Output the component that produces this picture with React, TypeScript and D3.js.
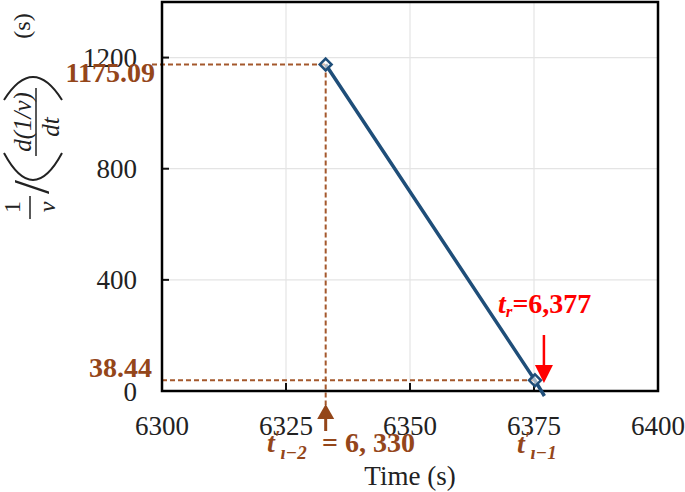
import React from 'react';
import * as d3 from 'd3';

// ---- data ----
const xTicks = [6300, 6325, 6350, 6375, 6400];
const yTicks = [0, 400, 800, 1200];
const gridX = [6325, 6350, 6375];
const gridY = [400, 800, 1200];
// fitted line through the two marked points, running just past the axis
const lineTimes = [6333, 6375.2, 6377.1];
const lineValues = [1175.09, 38.44, -18];
// hollow diamond markers
const markerTimes = [6333, 6375.2];
const markerValues = [1175.09, 38.44];
const markerLabels = ['1175.09', '38.44'];
const trTime = 6377;

const W = 685;
const H = 492;
const SERIF = '"Liberation Serif", "Times New Roman", serif';
const BROWN = '#94461a';
const BROWN_LINE = '#a4582c';
const BLUE = '#1f4e79';
const RED = '#ff0000';
const INK = '#222';

const x = d3.scaleLinear().domain([6300, 6400]).range([162, 658]);
const y = d3.scaleLinear().domain([0, 1400]).range([391, 2]);

const rot = (px: number, py: number) => `translate(${px},${py}) rotate(-90)`;

export default function App() {
  const pts = lineTimes.map((t, i) => [x(t), y(lineValues[i])] as [number, number]);
  const linePath = d3.line()(pts) || '';
  const diamond = d3.symbol().type(d3.symbolDiamond2).size(90)() || '';
  const [x0, x1] = x.range();
  const [yb, yt] = y.range();

  const xa = x(markerTimes[0]);
  const xr = x(trTime);

  return (
    <svg
      width={W}
      height={H}
      viewBox={`0 0 ${W} ${H}`}
      style={{ position: 'absolute', left: 0, top: 0, background: '#fff' }}
      fontFamily={SERIF}
    >
      {/* grid */}
      {gridX.map(t => (
        <line key={'gx' + t} x1={x(t)} x2={x(t)} y1={yt} y2={yb} stroke="#e4e4e4" strokeWidth={1.2} />
      ))}
      {gridY.map(v => (
        <line key={'gy' + v} x1={x0} x2={x1} y1={y(v)} y2={y(v)} stroke="#e4e4e4" strokeWidth={1.2} />
      ))}

      {/* inner ticks */}
      {gridY.map(v => (
        <line key={'ty' + v} x1={x0} x2={x0 + 7} y1={y(v)} y2={y(v)} stroke="#111" strokeWidth={2} />
      ))}
      {gridX.map(t => (
        <line key={'tx' + t} x1={x(t)} x2={x(t)} y1={yb} y2={yb - 8} stroke="#111" strokeWidth={2} />
      ))}

      {/* dashed guide lines */}
      <g stroke={BROWN_LINE} strokeWidth={2} strokeDasharray="5,3" fill="none">
        <line x1={152} x2={x(markerTimes[0])} y1={y(markerValues[0])} y2={y(markerValues[0])} />
        <line x1={xa} x2={xa} y1={y(markerValues[0])} y2={405} />
        <line x1={x0} x2={x(markerTimes[1])} y1={y(markerValues[1])} y2={y(markerValues[1])} />
      </g>

      {/* frame */}
      <rect x={x0} y={yt} width={x1 - x0} height={yb - yt} fill="none" stroke="#000" strokeWidth={2.5} />

      {/* series */}
      <path d={linePath} fill="none" stroke={BLUE} strokeWidth={3.5} />
      {markerTimes.map((t, i) => (
        <path
          key={'m' + i}
          d={diamond}
          transform={`translate(${x(t)},${y(markerValues[i])})`}
          fill="#fff"
          fillOpacity={0.6}
          stroke={BLUE}
          strokeWidth={2.5}
        />
      ))}

      {/* tick labels */}
      {yTicks.map(v => (
        <text key={'ly' + v} x={137} y={y(v) + 9.5} textAnchor="end" fontSize={27} fill={INK}>
          {v}
        </text>
      ))}
      {xTicks.map(t => (
        <text key={'lx' + t} x={x(t)} y={435} textAnchor="middle" fontSize={27} fill={INK}>
          {t}
        </text>
      ))}
      <text x={410} y={485} textAnchor="middle" fontSize={27} fill={INK}>Time (s)</text>

      {/* value labels on the y axis */}
      <text x={155} y={82} textAnchor="end" fontSize={28} fontWeight="bold" fill={BROWN}>{markerLabels[0]}</text>
      <text x={152} y={377} textAnchor="end" fontSize={28} fontWeight="bold" fill={BROWN}>{markerLabels[1]}</text>

      {/* brown up arrow + t'_{i-2} */}
      <line x1={xa} x2={xa} y1={431} y2={416} stroke={BROWN} strokeWidth={3} />
      <path d={`M${xa},404 L${xa - 8.5},419 L${xa + 8.5},419 Z`} fill={BROWN} />
      <text y={452} fill={BROWN} fontWeight="bold" fontSize={28}>
        <tspan x={267} fontStyle="italic">t</tspan>
        <tspan fontSize={20} dy={-7} fontStyle="italic">′</tspan>
        <tspan fontSize={19} dy={14} fontStyle="italic">ı−2</tspan>
        <tspan dy={-7} x={322}>= 6, 330</tspan>
      </text>

      {/* red down arrow + t_r */}
      <line x1={xr} x2={xr} y1={335} y2={367} stroke={RED} strokeWidth={2.5} />
      <path d={`M${xr - 9},365 L${xr + 9},365 L${xr},383 Z`} fill={RED} />
      <text y={313} fill={RED} fontWeight="bold" fontSize={28}>
        <tspan x={498} fontStyle="italic">t</tspan>
        <tspan fontSize={17} dy={4} fontStyle="italic">r</tspan>
        <tspan dy={-4}>=6,377</tspan>
      </text>

      {/* t'_{i-1} under 6375 */}
      <text y={453} fill={BROWN} fontWeight="bold" fontSize={28} fontStyle="italic">
        <tspan x={517}>t</tspan>
        <tspan fontSize={20} dy={-7}>′</tspan>
        <tspan fontSize={19} dy={13}>ı−1</tspan>
      </text>

      {/* rotated y title: 1/v / (d(1/v)/dt)  (s) */}
      <g fill={INK} fontSize={24}>
        <text transform={rot(12, 207)} textAnchor="middle" dominantBaseline="central">1</text>
        <line x1={30} x2={30} y1={196} y2={219} stroke={INK} strokeWidth={1.5} />
        <text transform={rot(47, 207)} textAnchor="middle" dominantBaseline="central" fontStyle="italic">v</text>
        <text transform={rot(31, 187)} textAnchor="middle" dominantBaseline="central" fontSize={50}>/</text>
        <path d="M4,153 Q33,207 62,153" fill="none" stroke={INK} strokeWidth={2} />
        <text transform={rot(22, 122)} textAnchor="middle" dominantBaseline="central" fontStyle="italic" fontSize={25}>d(1/v)</text>
        <line x1={36} x2={36} y1={88} y2={156} stroke={INK} strokeWidth={1.5} />
        <text transform={rot(50, 127)} textAnchor="middle" dominantBaseline="central" fontStyle="italic" fontSize={25}>dt</text>
        <path d="M4,100 Q33,54 62,100" fill="none" stroke={INK} strokeWidth={2} />
        <text transform={rot(22, 26)} textAnchor="middle" dominantBaseline="central">(s)</text>
      </g>
    </svg>
  );
}
